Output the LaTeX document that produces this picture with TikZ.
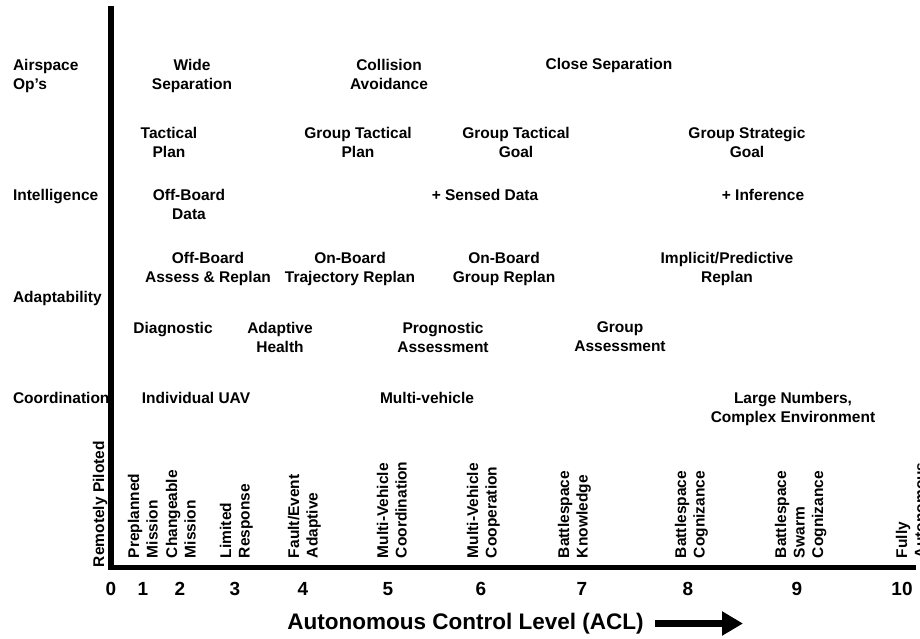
\documentclass[tikz,border=0pt]{standalone}
\usepackage{fontspec}
\setmainfont{Liberation Sans}
\usetikzlibrary{arrows.meta}
\begin{document}
\begin{tikzpicture}[x=1pt,y=-1pt,
  every node/.style={inner sep=0pt, outer sep=0pt,
    font=\bfseries\fontsize{15.5}{19}\selectfont},
  cell/.style={anchor=north, align=center},
  rowlabel/.style={anchor=north west, align=left},
  level/.style={anchor=north west, align=left, rotate=90,
    font=\bfseries\fontsize{15.5}{18.5}\selectfont},
  tick/.style={anchor=north, font=\bfseries\fontsize{19}{22}\selectfont},
  axis/.style={line width=5.5pt, line join=miter},
  bigarrow/.style={line width=7pt, -{Triangle[length=21pt,width=23pt]}},
]
\useasboundingbox (0,0) rectangle (920,638);

% axes
\coordinate (ytop) at (111,6);
\coordinate (origin) at (111,567.5);
\coordinate (xend) at (916,567.5);
\draw[axis] (ytop) -- (origin) -- (xend);

% capability categories
\node[rowlabel] (r-air) at (13,59) {Airspace\\Op’s};
\node[rowlabel] (r-int) at (13,189) {Intelligence};
\node[rowlabel] (r-ada) at (13,291) {Adaptability};
\node[rowlabel] (r-coo) at (13,392) {Coordination};

% airspace operations
\node[cell] (wide) at (192,59) {Wide\\Separation};
\node[cell] (coll) at (389,59) {Collision\\Avoidance};
\node[cell] (close) at (609,58) {Close Separation};

% planning / goals
\node[cell] (tplan) at (169,127) {Tactical\\Plan};
\node[cell] (gtplan) at (358,127) {Group Tactical\\Plan};
\node[cell] (gtgoal) at (516,127) {Group Tactical\\Goal};
\node[cell] (gsgoal) at (747,127) {Group Strategic\\Goal};

% intelligence
\node[cell] (offdata) at (189,189) {Off-Board\\Data};
\node[cell] (sensed) at (485,189) {+ Sensed Data};
\node[cell] (infer) at (763,189) {+ Inference};

% replanning
\node[cell] (offrep) at (208,252) {Off-Board\\Assess \& Replan};
\node[cell] (trajrep) at (350,252) {On-Board\\Trajectory Replan};
\node[cell] (grouprep) at (504,252) {On-Board\\Group Replan};
\node[cell] (predrep) at (727,252) {Implicit/Predictive\\Replan};

% health assessment
\node[cell] (diag) at (173,322) {Diagnostic};
\node[cell] (adhealth) at (280,322) {Adaptive\\Health};
\node[cell] (progn) at (443,322) {Prognostic\\Assessment};
\node[cell] (gassess) at (620,322) {Group\\Assessment};

% coordination
\node[cell] (indiv) at (196,392) {Individual UAV};
\node[cell] (multi) at (427,392) {Multi-vehicle};
\node[cell] (large) at (793,392) {Large Numbers,\\Complex Environment};

% level names
\node[level] (l0) at (93,567) {Remotely Piloted};
\node[level] (l1) at (128,558) {Preplanned\\Mission};
\node[level] (l2) at (166,558) {Changeable\\Mission};
\node[level] (l3) at (220,558) {Limited\\Response};
\node[level] (l4) at (288,558) {Fault/Event\\Adaptive};
\node[level] (l5) at (377,558) {Multi-Vehicle\\Coordination};
\node[level] (l6) at (467,558) {Multi-Vehicle\\Cooperation};
\node[level] (l7) at (558,558) {Battlespace\\Knowledge};
\node[level] (l8) at (675,558) {Battlespace\\Cognizance};
\node[level] (l9) at (775,558) {Battlespace\\Swarm\\Cognizance};
\node[level] (l10) at (896,558) {Fully\\Autonomous};

% level numbers
\node[tick] (n0) at (111,582) {0};
\node[tick] (n1) at (143,582) {1};
\node[tick] (n2) at (180,582) {2};
\node[tick] (n3) at (235,582) {3};
\node[tick] (n4) at (303,582) {4};
\node[tick] (n5) at (388,582) {5};
\node[tick] (n6) at (481,582) {6};
\node[tick] (n7) at (582,582) {7};
\node[tick] (n8) at (688,582) {8};
\node[tick] (n9) at (797,582) {9};
\node[tick] (n10) at (902,582) {10};

% axis title with arrow
\node[anchor=base, font=\bfseries\fontsize{22.5}{26}\selectfont] (title) at (465.5,629)
  {Autonomous Control Level (ACL)};
\coordinate (acl-tail) at (655,623.5);
\coordinate (acl-tip) at (743,623.5);
\draw[bigarrow] (acl-tail) -- (acl-tip);
\end{tikzpicture}
\end{document}
